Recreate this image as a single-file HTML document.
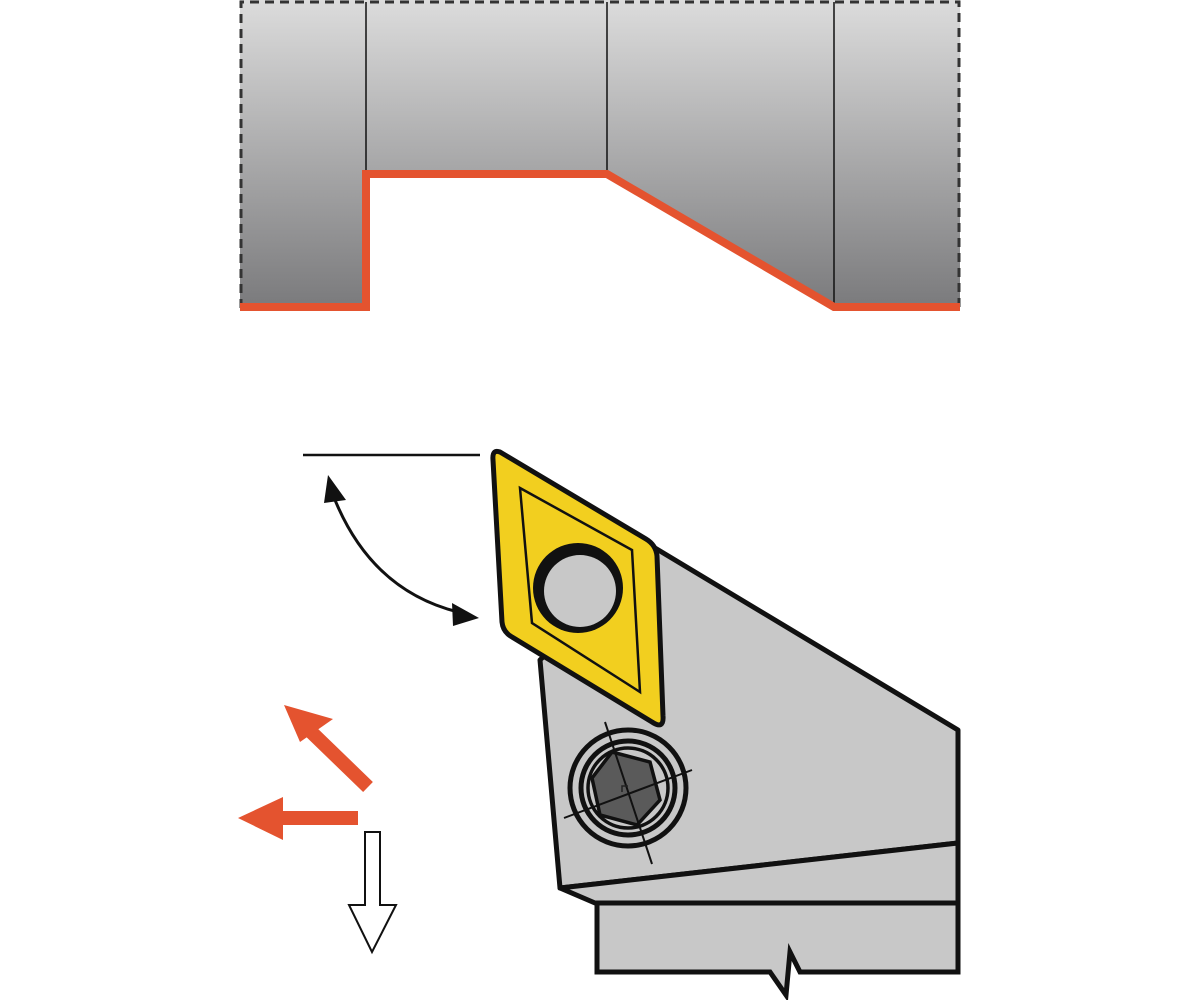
<!DOCTYPE html>
<html><head><meta charset="utf-8"><style>html,body{margin:0;padding:0;background:#fff}svg{display:block}</style></head>
<body>
<svg width="1200" height="1000" viewBox="0 0 1200 1000" xmlns="http://www.w3.org/2000/svg">
<defs>
<linearGradient id="g" x1="0" y1="0" x2="0" y2="1">
<stop offset="0" stop-color="#dcdcdc"/><stop offset="1" stop-color="#7a7a7c"/></linearGradient>
</defs>
<rect x="240" y="0" width="720" height="308" fill="url(#g)"/>
<polygon points="366,308 366,172 607,172 834,308" fill="#fff"/>
<path d="M241,308 V2 H959 V308" fill="none" stroke="#333" stroke-width="3" stroke-dasharray="9,6"/>
<g stroke="#111" stroke-width="1.5">
<line x1="366" y1="2" x2="366" y2="172"/><line x1="607" y1="2" x2="607" y2="172"/><line x1="834" y1="2" x2="834" y2="308"/>
</g>
<polyline points="240,307 366,307 366,174 607,174 834,307 960,307" fill="none" stroke="#e4532f" stroke-width="8"/>

<line x1="303" y1="455" x2="480" y2="455" stroke="#111" stroke-width="2.5"/>
<path d="M333,495 Q370,590 458,612" fill="none" stroke="#111" stroke-width="3"/>
<polygon points="328,475 346,500 324,503" fill="#111"/>
<polygon points="479,618 452,603 453,626" fill="#111"/>
<line x1="368" y1="787" x2="305" y2="726" stroke="#e4532f" stroke-width="14"/>
<polygon points="284,705 333,719 300,742" fill="#e4532f"/>
<line x1="358" y1="818" x2="270" y2="818" stroke="#e4532f" stroke-width="14"/>
<polygon points="238,818 283,797 283,840" fill="#e4532f"/>
<polygon points="365,832 380,832 380,905 396,905 372,952 349,905 365,905" fill="#fff" stroke="#111" stroke-width="2"/>

<polygon points="540,660 655,548 958,730 958,900 560,888" fill="#c8c8c8" stroke="#111" stroke-width="5" stroke-linejoin="round"/>
<line x1="560" y1="888" x2="958" y2="843" stroke="#111" stroke-width="5"/>
<polygon points="560,888 595,903 958,903 958,843" fill="#c8c8c8" stroke="#111" stroke-width="5" stroke-linejoin="round"/>
<polygon points="597,903 958,903 958,972 800,972 790,952 786,995 770,972 597,972" fill="#c8c8c8" stroke="#111" stroke-width="5"/>

<circle cx="628" cy="788" r="58" fill="#c8c8c8" stroke="#111" stroke-width="5"/>
<circle cx="628" cy="788" r="47" fill="none" stroke="#111" stroke-width="5"/>
<circle cx="628" cy="788" r="40" fill="none" stroke="#111" stroke-width="3.5"/>
<polygon points="612,752 650,762 660,800 637,825 600,815 592,778" fill="#5a5a5a" stroke="#111" stroke-width="3.5"/>
<g stroke="#111" stroke-width="2"><line x1="605" y1="722" x2="652" y2="864"/><line x1="564" y1="818" x2="692" y2="770"/></g>
<path d="M622,792 v-6 h6" fill="none" stroke="#222" stroke-width="1.5"/>

<path d="M500,452 Q492,449 493,460 L502,622 Q503,632 512,637 L652,722 Q664,730 663,716 L657,556 Q656,545 646,539 Z" fill="#f2cf1f" stroke="#111" stroke-width="5" stroke-linejoin="round"/>
<polygon points="520,488 632,550 640,692 532,623" fill="none" stroke="#111" stroke-width="2.5"/>
<circle cx="578" cy="588" r="45" fill="#111"/>
<circle cx="580" cy="591" r="36" fill="#c8c8c8"/>
</svg>
</body></html>
